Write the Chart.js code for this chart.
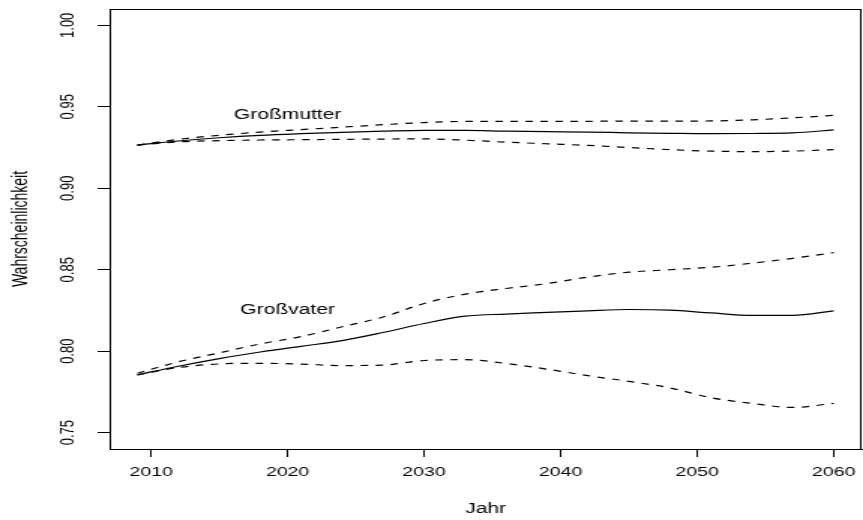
<!DOCTYPE html>
<html lang="de">
<head>
<meta charset="UTF-8">
<title>Großeltern</title>
<script src="https://cdn.jsdelivr.net/npm/chart.js"></script>
<style>
    html, body { margin: 0; padding: 0; background: #fff; overflow: hidden; }
    /* die Vorlage ist waagerecht gestreckt, darum wird die Leinwand auch gestreckt */
    #rahmen { width: 575px; height: 520px; transform: scaleX(1.5009); transform-origin: 0 0; }
</style>
</head>
<body>
<div id="rahmen"><canvas id="grafik" width="575" height="520"></canvas></div>
<script>
    var jahre = [2009, 2012, 2015, 2018, 2021, 2024, 2027, 2030, 2033, 2036, 2039, 2042, 2045, 2048, 2051, 2054, 2057, 2060];

    var mutter      = [0.9265, 0.9290, 0.9310, 0.9325, 0.9335, 0.9343, 0.9350, 0.9355, 0.9355, 0.9350, 0.9347, 0.9345, 0.9340, 0.9337, 0.9335, 0.9336, 0.9340, 0.9358];
    var mutterOben  = [0.9265, 0.9300, 0.9325, 0.9345, 0.9360, 0.9375, 0.9390, 0.9403, 0.9410, 0.9410, 0.9410, 0.9411, 0.9412, 0.9412, 0.9413, 0.9420, 0.9432, 0.9448];
    var mutterUnten = [0.9265, 0.9285, 0.9292, 0.9296, 0.9298, 0.9300, 0.9302, 0.9303, 0.9295, 0.9283, 0.9273, 0.9263, 0.9250, 0.9237, 0.9228, 0.9225, 0.9228, 0.9237];

    var vater      = [0.7855, 0.7908, 0.7955, 0.7995, 0.8030, 0.8065, 0.8115, 0.8170, 0.8215, 0.8228, 0.8238, 0.8248, 0.8256, 0.8252, 0.8235, 0.8220, 0.8220, 0.8248];
    var vaterOben  = [0.7865, 0.7935, 0.7990, 0.8045, 0.8090, 0.8150, 0.8210, 0.8293, 0.8350, 0.8385, 0.8415, 0.8455, 0.8485, 0.8500, 0.8515, 0.8540, 0.8570, 0.8605];
    var vaterUnten = [0.7855, 0.7900, 0.7922, 0.7926, 0.7921, 0.7912, 0.7915, 0.7943, 0.7948, 0.7925, 0.7890, 0.7850, 0.7815, 0.7775, 0.7715, 0.7680, 0.7655, 0.7680];

    var xTicks = [2010, 2020, 2030, 2040, 2050, 2060];
    var yTicks = [0.75, 0.80, 0.85, 0.90, 0.95, 1.00];
    var yTickLabels = ['0.75', '0.80', '0.85', '0.90', '0.95', '1.00'];

    // Beschriftung der Kurven: [Text, Jahr, Wert]
    var kurvenNamen = [['Großmutter', 2020, 0.9446], ['Großvater', 2020, 0.825]];

    var schrift = '"Liberation Sans", Arial, Helvetica, sans-serif';

    function punkte(werte) {
        return jahre.map(function (j, i) { return { x: j, y: werte[i] }; });
    }

    function linie(werte, gestrichelt) {
        return {
            data: punkte(werte),
            borderColor: '#000',
            borderWidth: 1.2,
            borderDash: gestrichelt ? [5, 5] : [],
            pointRadius: 0,
            fill: false,
            cubicInterpolationMode: 'monotone'
        };
    }

    var rahmenPlugin = {
        id: 'rahmen',
        afterDraw: function (chart) {
            var ctx = chart.ctx;
            var a = chart.chartArea;
            var y = chart.scales.y;
            var x = chart.scales.x;
            ctx.save();
            ctx.strokeStyle = '#000';
            ctx.lineWidth = 1;
            ctx.strokeRect(Math.round(a.left) + 0.5, Math.round(a.top) + 0.5,
                Math.round(a.right - a.left) - 1, Math.round(a.bottom - a.top));

            // gedrehte Beschriftung der y-Achse
            ctx.fillStyle = '#000';
            ctx.font = '13px ' + schrift;
            ctx.textAlign = 'center';
            ctx.textBaseline = 'middle';
            for (var i = 0; i < yTicks.length; i++) {
                var py = y.getPixelForValue(yTicks[i]);
                ctx.save();
                ctx.translate(a.left - 27.5, py);
                ctx.rotate(-Math.PI / 2);
                ctx.fillText(yTickLabels[i], 0, 0);
                ctx.restore();
            }

            ctx.font = '14px ' + schrift;
            for (var k = 0; k < kurvenNamen.length; k++) {
                ctx.fillText(kurvenNamen[k][0], x.getPixelForValue(kurvenNamen[k][1]), y.getPixelForValue(kurvenNamen[k][2]));
            }
            ctx.restore();
        }
    };

    new Chart(document.getElementById('grafik'), {
        type: 'line',
        data: {
            datasets: [
                linie(mutter, false), linie(mutterOben, true), linie(mutterUnten, true),
                linie(vater, false), linie(vaterOben, true), linie(vaterUnten, true)
            ]
        },
        options: {
            responsive: false,
            devicePixelRatio: 1,
            animation: false,
            layout: { padding: { top: 9, right: 1, bottom: 0, left: 0 } },
            plugins: {
                legend: { display: false },
                tooltip: { enabled: false }
            },
            scales: {
                x: {
                    type: 'linear',
                    min: 2006.96,
                    max: 2062.04,
                    afterBuildTicks: function (axis) {
                        axis.ticks = xTicks.map(function (v) { return { value: v }; });
                    },
                    afterFit: function (axis) {
                        axis.height = 71;
                        // keinen Platz seitlich für die Beschriftung abziehen
                        axis.paddingLeft = 0;
                        axis.paddingRight = 0;
                    },
                    grid: { drawOnChartArea: false, drawTicks: true, tickLength: 8, color: '#000', lineWidth: 1 },
                    border: { display: true, color: '#000', width: 1 },
                    ticks: {
                        color: '#000',
                        font: { family: schrift, size: 13 },
                        padding: 8,
                        maxRotation: 0,
                        autoSkip: false,
                        callback: function (v) { return String(v); }
                    },
                    title: {
                        display: true,
                        text: 'Jahr',
                        color: '#000',
                        font: { family: schrift, size: 14 },
                        padding: { top: 0, bottom: 2 }
                    }
                },
                y: {
                    min: 0.74,
                    max: 1.01,
                    afterBuildTicks: function (axis) {
                        axis.ticks = yTicks.map(function (v) { return { value: v }; });
                    },
                    afterFit: function (axis) { axis.width = 73; },
                    grid: { drawOnChartArea: false, drawTicks: true, tickLength: 8, color: '#000', lineWidth: 1 },
                    border: { display: true, color: '#000', width: 1 },
                    ticks: { display: false },
                    title: {
                        display: true,
                        text: 'Wahrscheinlichkeit',
                        color: '#000',
                        font: { family: schrift, size: 14 },
                        padding: { top: 6, bottom: 0 }
                    }
                }
            }
        },
        plugins: [rahmenPlugin]
    });
</script>
</body>
</html>
